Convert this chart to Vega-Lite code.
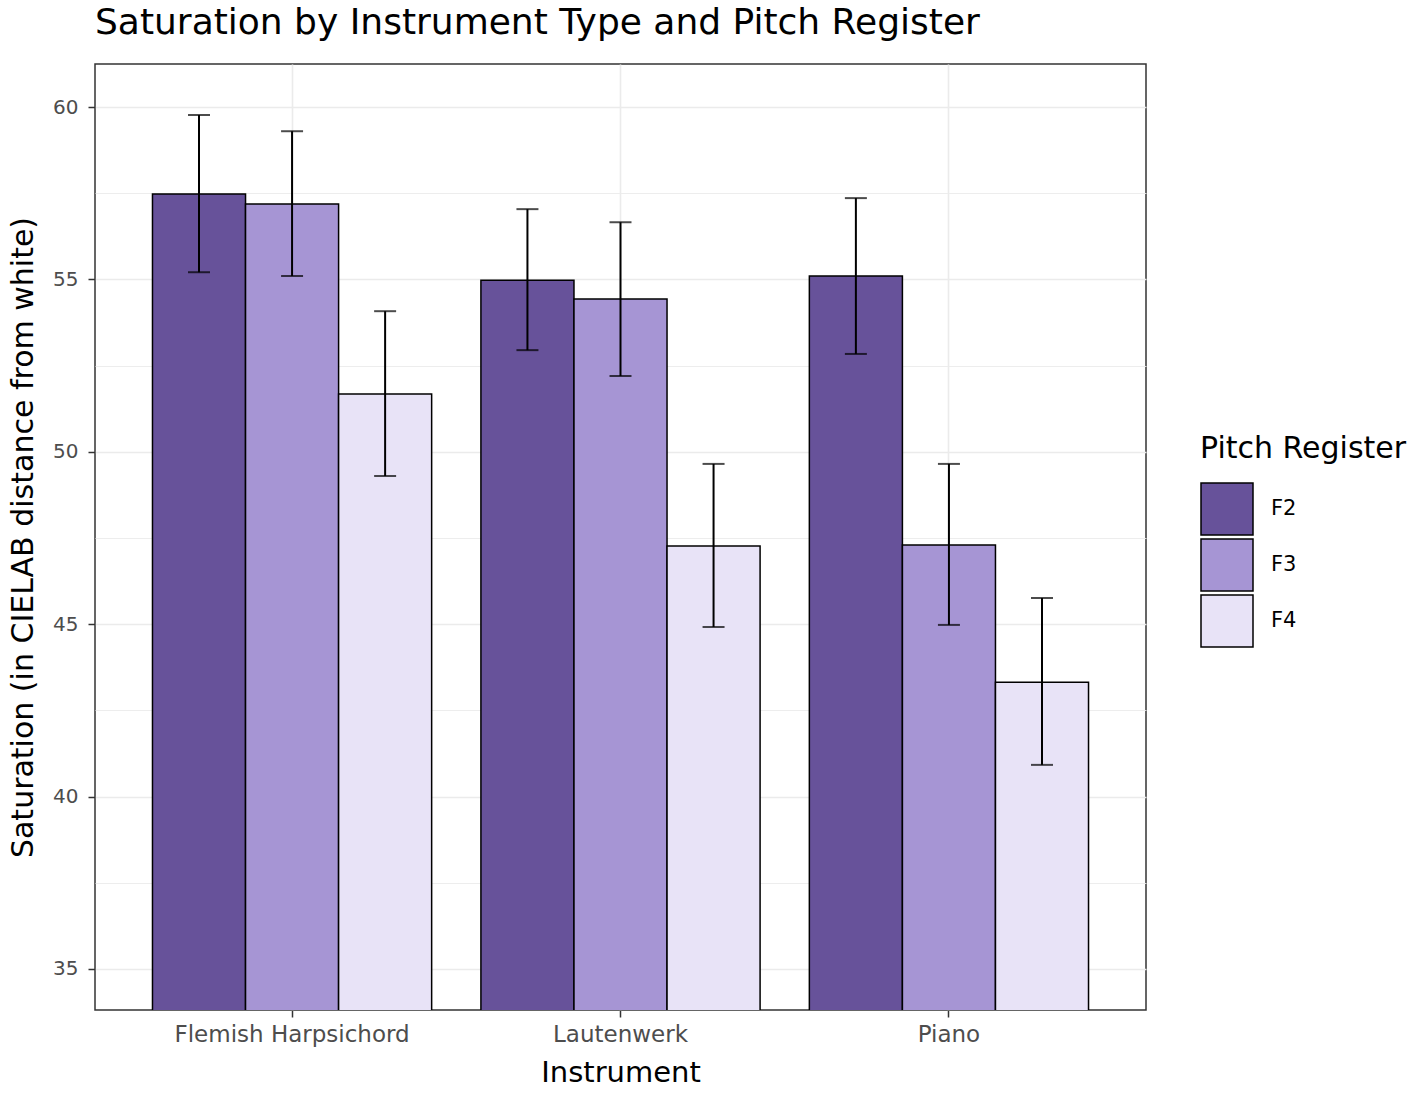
{
  "$schema": "https://vega.github.io/schema/vega-lite/v6.json",
  "width": 1051,
  "height": 946,
  "autosize": "none",
  "padding": {"left": 95, "top": 64, "right": 272, "bottom": 90},
  "background": "white",
  "title": {
    "text": "Saturation by Instrument Type and Pitch Register",
    "anchor": "start",
    "frame": "group",
    "fontSize": 36,
    "font": "DejaVu Sans",
    "fontWeight": "normal",
    "color": "black",
    "offset": 22
  },
  "config": {
    "font": "DejaVu Sans",
    "view": {"stroke": "#333333", "strokeWidth": 1.5},
    "axis": {
      "domain": false,
      "tickColor": "#333333",
      "tickSize": 7,
      "tickWidth": 1.5,
      "labelColor": "#4D4D4D",
      "labelFontSize": 20,
      "labelFont": "DejaVu Sans",
      "labelLimit": 0,
      "titleFont": "DejaVu Sans",
      "titleFontSize": 29,
      "titleFontWeight": "normal",
      "titleColor": "black",
      "gridColor": "#EBEBEB"
    }
  },
  "data": {
    "values": [
      {"Instrument": "Flemish Harpsichord", "Pitch": "F2", "Saturation": 57.48, "lo": 55.21, "hi": 59.77},
      {"Instrument": "Flemish Harpsichord", "Pitch": "F3", "Saturation": 57.19, "lo": 55.10, "hi": 59.30},
      {"Instrument": "Flemish Harpsichord", "Pitch": "F4", "Saturation": 51.68, "lo": 49.30, "hi": 54.08},
      {"Instrument": "Lautenwerk", "Pitch": "F2", "Saturation": 54.98, "lo": 52.95, "hi": 57.04},
      {"Instrument": "Lautenwerk", "Pitch": "F3", "Saturation": 54.43, "lo": 52.20, "hi": 56.66},
      {"Instrument": "Lautenwerk", "Pitch": "F4", "Saturation": 47.27, "lo": 44.92, "hi": 49.65},
      {"Instrument": "Piano", "Pitch": "F2", "Saturation": 55.10, "lo": 52.84, "hi": 57.36},
      {"Instrument": "Piano", "Pitch": "F3", "Saturation": 47.30, "lo": 44.98, "hi": 49.65},
      {"Instrument": "Piano", "Pitch": "F4", "Saturation": 43.32, "lo": 40.92, "hi": 45.76}
    ]
  },
  "encoding": {
    "x": {
      "field": "Instrument",
      "type": "nominal",
      "title": "Instrument",
      "scale": {"paddingInner": 0.15, "paddingOuter": 0.175},
      "axis": {
        "labelAngle": 0,
        "labelFontSize": 23,
        "bandPosition": 0.5,
        "grid": true,
        "gridWidth": 1.6,
        "labelPadding": 6,
        "titlePadding": 12
      }
    },
    "xOffset": {
      "field": "Pitch",
      "type": "nominal",
      "scale": {"paddingInner": 0, "paddingOuter": 0}
    }
  },
  "layer": [
    {
      "mark": {"type": "bar", "stroke": "black", "strokeWidth": 1.5, "clip": true},
      "encoding": {
        "y": {
          "field": "Saturation",
          "type": "quantitative",
          "title": "Saturation (in CIELAB distance from white)",
          "scale": {"domain": [33.81, 61.25], "nice": false, "zero": false},
          "axis": {
            "values": [35, 37.5, 40, 42.5, 45, 47.5, 50, 52.5, 55, 57.5, 60],
            "labelExpr": "datum.value % 5 === 0 ? datum.label : ''",
            "tickOpacity": {"condition": {"test": "datum.value % 5 === 0", "value": 1}, "value": 0},
            "gridWidth": {"condition": {"test": "datum.value % 5 === 0", "value": 1.6}, "value": 0.9},
            "grid": true,
            "labelPadding": 10,
            "titleFontSize": 30,
            "titlePadding": 14
          }
        },
        "fill": {
          "field": "Pitch",
          "type": "nominal",
          "title": "Pitch Register",
          "scale": {"domain": ["F2", "F3", "F4"], "range": ["#67529A", "#A695D4", "#E8E3F7"]},
          "legend": {
            "orient": "none",
            "legendX": 1105,
            "legendY": 370,
            "symbolType": "square",
            "symbolSize": 2704,
            "symbolStrokeColor": "black",
            "symbolStrokeWidth": 1.5,
            "rowPadding": -6,
            "labelFontSize": 21,
            "labelFont": "DejaVu Sans",
            "labelColor": "black",
            "labelOffset": 17,
            "labelLimit": 0,
            "titleFontSize": 30,
            "titleFont": "DejaVu Sans",
            "titleFontWeight": "normal",
            "titleColor": "black",
            "titleLimit": 0,
            "titlePadding": 18
          }
        }
      }
    },
    {
      "mark": {"type": "rule", "color": "black", "strokeWidth": 2},
      "encoding": {
        "y": {"field": "lo", "type": "quantitative"},
        "y2": {"field": "hi"}
      }
    },
    {
      "mark": {"type": "tick", "color": "black", "thickness": 2, "size": 22, "orient": "horizontal"},
      "encoding": {"y": {"field": "lo", "type": "quantitative"}}
    },
    {
      "mark": {"type": "tick", "color": "black", "thickness": 2, "size": 22, "orient": "horizontal"},
      "encoding": {"y": {"field": "hi", "type": "quantitative"}}
    }
  ]
}
